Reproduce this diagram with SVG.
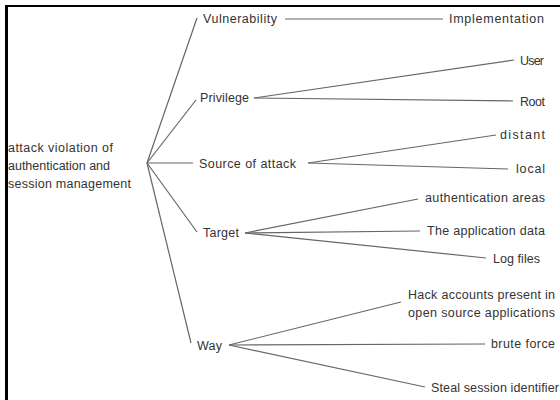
<svg xmlns="http://www.w3.org/2000/svg" width="560" height="400" viewBox="0 0 560 400">
<style>
text{font-family:"Liberation Sans",Arial,sans-serif;font-size:12.5px;fill:#333}
.c line{stroke:#666;stroke-width:1.2;fill:none}
</style>
<rect width="560" height="400" fill="#fff"/>
<rect x="5" y="5" width="3" height="395" fill="#000"/>
<rect x="5" y="5" width="555" height="2" fill="#000"/>
<g class="c" id="connectors">
<line x1="147" y1="163" x2="197" y2="18"/>
<line x1="147" y1="163" x2="196" y2="100"/>
<line x1="147" y1="163" x2="193" y2="163"/>
<line x1="147" y1="163" x2="197" y2="232"/>
<line x1="147" y1="163" x2="191" y2="343"/>
<line x1="285" y1="19" x2="443" y2="19"/>
<line x1="254" y1="98" x2="514" y2="60"/>
<line x1="254" y1="98" x2="513" y2="101"/>
<line x1="308" y1="163" x2="496" y2="135"/>
<line x1="308" y1="163" x2="508" y2="169"/>
<line x1="245" y1="233" x2="418" y2="199"/>
<line x1="245" y1="233" x2="420" y2="231"/>
<line x1="245" y1="233" x2="486" y2="258"/>
<line x1="229" y1="345" x2="401" y2="302"/>
<line x1="229" y1="345" x2="485" y2="344"/>
<line x1="229" y1="345" x2="425" y2="387"/>
</g>
<g id="root">
<text x="8" y="152" textLength="105">attack violation of</text>
<text x="8" y="170" textLength="102">authentication and</text>
<text x="8" y="188" textLength="123">session management</text>
</g>
<g id="vulnerability"><text x="203" y="23" textLength="74">Vulnerability</text></g>
<g id="implementation"><text x="449" y="23" textLength="95">Implementation</text></g>
<g id="privilege"><text x="200" y="102" textLength="49">Privilege</text></g>
<g id="user"><text x="520" y="65" textLength="24">User</text></g>
<g id="rootpriv"><text x="520" y="106" textLength="25">Root</text></g>
<g id="source"><text x="199" y="168" textLength="97">Source of attack</text></g>
<g id="distant"><text x="500" y="139" textLength="45">distant</text></g>
<g id="local"><text x="516" y="173" textLength="29">local</text></g>
<g id="target"><text x="203" y="237" textLength="36">Target</text></g>
<g id="authareas"><text x="425" y="202" textLength="120">authentication areas</text></g>
<g id="appdata"><text x="427" y="235" textLength="118">The application data</text></g>
<g id="logfiles"><text x="493" y="263" textLength="47">Log files</text></g>
<g id="way"><text x="197" y="350" textLength="25">Way</text></g>
<g id="hack">
<text x="408" y="299" textLength="147">Hack accounts present in</text>
<text x="408" y="317" textLength="147">open source applications</text>
</g>
<g id="brute"><text x="491" y="348" textLength="64">brute force</text></g>
<g id="steal"><text x="431" y="392" textLength="128">Steal session identifier</text></g>
</svg>
